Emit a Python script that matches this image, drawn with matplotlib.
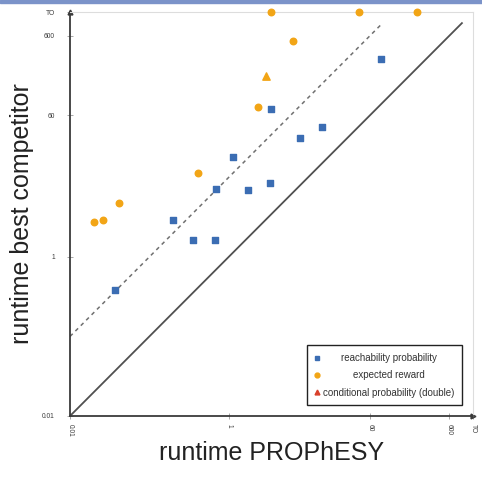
import numpy as np
import matplotlib
matplotlib.use("Agg")
import matplotlib.pyplot as plt
from matplotlib.lines import Line2D
from matplotlib.patches import Rectangle

plt.rcParams['font.family'] = ['Liberation Sans', 'DejaVu Sans']

# timeout value (plotted at the top / right edge)
TO = 1200

# reachability probability (blue squares)
reach_x = [0.037, 0.20, 0.355, 0.68, 0.69, 1.13, 1.73, 3.32, 3.42, 7.96, 15.1, 83]
reach_y = [0.38, 2.89, 1.62, 1.62, 7.2, 18, 6.9, 8.5, 73, 31, 42.8, 308]

# expected reward (orange circles)
reward_x = [0.020, 0.026, 0.041, 0.41, 2.31, 6.5, 3.42, 44.5, 235]
reward_y = [2.75, 2.89, 4.8, 11.3, 76, 524, TO, TO, TO]

# conditional probability (double)
cond_x = [2.93]
cond_y = [190]

# reference lines: y = x and y = 10x
ref_x = np.array([0.01, 870])
ref10_x = np.array([0.01, 87])

tick_vals = [0.01, 1, 60, 600, TO]
tick_labels = ['0.01', '1', '60', '600', 'TO']

blue = '#3b6db3'
orange = '#f2a516'
dark = '#3a3a3a'

fig = plt.figure(figsize=(4.82, 4.79), dpi=100)
ax = fig.add_axes([70 / 482, 63 / 479, 403 / 482, 404 / 479])

# reference lines
ax.plot(ref_x, ref_x, color='#505050', lw=1.3, zorder=2)
ax.plot(ref10_x, ref10_x * 10, color='#707070', lw=1.1, ls=(0, (2.5, 2.5)), zorder=2)

ax.scatter(reach_x, reach_y, marker='s', s=24, color=blue, zorder=3, clip_on=False)
ax.scatter(reward_x, reward_y, marker='o', s=22, color=orange, zorder=3, clip_on=False)
ax.scatter(cond_x, cond_y, marker='^', s=28, color=orange, zorder=3, clip_on=False)

ax.set_xscale('log')
ax.set_yscale('log')
ax.set_xlim(0.01, TO)
ax.set_ylim(0.01, TO)
ax.minorticks_off()
ax.set_xticks(tick_vals)
ax.set_xticklabels(tick_labels, rotation=-90, fontsize=4.8, color=dark)
ax.set_yticks(tick_vals)
ax.set_yticklabels(tick_labels, fontsize=4.8, color=dark)
ax.tick_params(direction='inout', length=4, width=0.6, color='#999999')
ax.tick_params(axis='x', pad=4)
ax.tick_params(axis='y', pad=9)

for side in ['top', 'right']:
    ax.spines[side].set_color('#dddddd')
    ax.spines[side].set_linewidth(0.8)
for side in ['left', 'bottom']:
    ax.spines[side].set_color(dark)
    ax.spines[side].set_linewidth(1.3)

# arrow heads at the ends of the axes
ax.plot(1, 0, '>', color=dark, ms=3.5, transform=ax.transAxes, clip_on=False)
ax.plot(0, 1, '^', color=dark, ms=3.5, transform=ax.transAxes, clip_on=False)

ax.set_xlabel('runtime PROPhESY', fontsize=18, color='#222222', labelpad=3)
ax.set_ylabel('runtime best competitor', fontsize=18, color='#222222', labelpad=6)

handles = [
    Line2D([], [], ls='none', marker='s', ms=3.5, color=blue),
    Line2D([], [], ls='none', marker='o', ms=3.5, color=orange),
    Line2D([], [], ls='none', marker='^', ms=3.5, color='#d9402b'),
]
labels = ['reachability probability', 'expected reward', 'conditional probability (double)']
leg = ax.legend(handles, labels, loc='lower right', fontsize=7, frameon=True,
                fancybox=False, edgecolor='#222222', framealpha=1,
                handlelength=0.6, handletextpad=0.3, labelspacing=0.75,
                borderpad=0.8, borderaxespad=1.1)
leg.get_frame().set_linewidth(1.0)

# center the legend texts like the original
fig.canvas.draw()
texts = leg.get_texts()
widths = [t.get_window_extent().width for t in texts]
maxw = max(widths)
for t, w in zip(texts, widths):
    t.set_color('#333333')
    t.set_x((maxw - w) / 2)

# thin blue band at the top of the picture
fig.patches.append(Rectangle((0, 1 - 3 / 479), 1, 3 / 479, transform=fig.transFigure,
                             color='#7b93c9', zorder=0))

fig.savefig('out.png', dpi=100)
